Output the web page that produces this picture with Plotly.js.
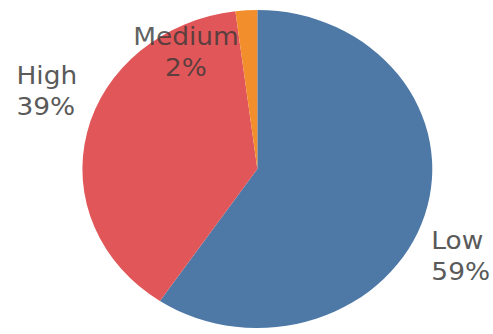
<!DOCTYPE html>
<html>
<head>
<meta charset="utf-8">
<script src="https://cdn.plot.ly/plotly-3.0.1.min.js"></script>
<style>
  html, body { margin: 0; padding: 0; background: #fff; overflow: hidden; }
  #chart { width: 448px; height: 334px; transform: scaleX(1.1004); transform-origin: 0 0; }
</style>
</head>
<body>
<div id="chart"></div>
<script>
const categories = ["Low", "High", "Medium"];
const values = [59.4, 38.6, 2.0];
const colors = ["#4e79a7", "#e15759", "#f28e2b"];

const total = values.reduce((a, b) => a + b, 0);
const labelText = categories.map((c, i) => c + "<br>" + Math.round(values[i] / total * 100) + "%");

const labelPos = [
  { x: 0.935, y: 0.232, xanchor: "center", align: "left" },
  { x: 0.030, y: 0.727, xanchor: "left", align: "left" },
  { x: 0.378, y: 0.843, xanchor: "center", align: "center" }
];

const annotations = categories.map((c, i) => ({
  text: labelText[i],
  xref: "paper", yref: "paper",
  x: labelPos[i].x, y: labelPos[i].y,
  xanchor: labelPos[i].xanchor, yanchor: "middle",
  align: labelPos[i].align,
  showarrow: false,
  font: { family: "DejaVu Sans", size: 24, color: i === 2 ? "rgba(55,55,55,0.8)" : "#5a5a5a" }
}));

const trace = {
  type: "pie",
  labels: categories,
  values: values,
  sort: false,
  direction: "clockwise",
  rotation: 0,
  textinfo: "none",
  hoverinfo: "none",
  marker: { colors: colors, line: { width: 0 } },
  domain: { x: [0.167, 0.877], y: [0.018, 0.970] },
  showlegend: false
};

const layout = {
  width: 448,
  height: 334,
  margin: { l: 0, r: 0, t: 0, b: 0 },
  paper_bgcolor: "#ffffff",
  plot_bgcolor: "#ffffff",
  showlegend: false,
  annotations: annotations
};

Plotly.newPlot("chart", [trace], layout, { staticPlot: true, displayModeBar: false });
</script>
</body>
</html>
